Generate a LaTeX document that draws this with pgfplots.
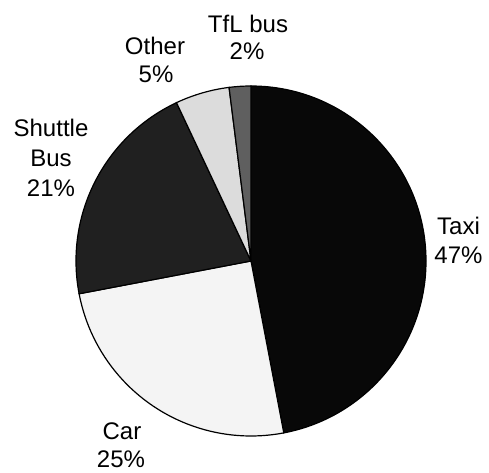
\documentclass[border=0pt]{standalone}
\usepackage{pgfplots}
\pgfplotsset{compat=1.18}
\usepackage{pgfplotstable}
\usepackage{fontspec}
\setmainfont{Liberation Sans}
\definecolor{ctaxi}{HTML}{080808}
\definecolor{ccar}{HTML}{F4F4F4}
\definecolor{cshuttle}{HTML}{202020}
\definecolor{cother}{HTML}{DCDCDC}
\definecolor{ctfl}{HTML}{5F5F5F}
\newcommand\lf{\fontsize{24}{29}\selectfont}
% shares of the pie (percent), clockwise from 12 o'clock
\pgfplotstableread{
label value
Taxi 47
Car 25
Shuttle 21
Other 5
TfL 2
}\piedata
\pgfplotstablegetelem{0}{value}\of\piedata \let\vA\pgfplotsretval
\pgfplotstablegetelem{1}{value}\of\piedata \let\vB\pgfplotsretval
\pgfplotstablegetelem{2}{value}\of\piedata \let\vC\pgfplotsretval
\pgfplotstablegetelem{3}{value}\of\piedata \let\vD\pgfplotsretval
\pgfplotstablegetelem{4}{value}\of\piedata \let\vE\pgfplotsretval
\pgfmathsetmacro\aA{90}
\pgfmathsetmacro\aB{\aA-\vA*3.6}
\pgfmathsetmacro\aC{\aB-\vB*3.6}
\pgfmathsetmacro\aD{\aC-\vC*3.6}
\pgfmathsetmacro\aE{\aD-\vD*3.6}
\pgfmathsetmacro\aF{\aE-\vE*3.6}
\begin{document}
\begin{tikzpicture}
\begin{axis}[
  scale only axis, width=489pt, height=472pt,
  xmin=0, xmax=489, ymin=0, ymax=472,
  hide axis, clip=false,
]
\path (axis cs:0,0) rectangle (axis cs:489,472);
\def\cx{251}\def\cy{211}\def\R{175pt}
\filldraw[fill=ctaxi, draw=black, line width=1.2pt] (axis cs:\cx,\cy) -- ++(\aA:\R) arc[start angle=\aA, end angle=\aB, radius=\R] -- cycle;
\filldraw[fill=ccar, draw=black, line width=1.2pt] (axis cs:\cx,\cy) -- ++(\aB:\R) arc[start angle=\aB, end angle=\aC, radius=\R] -- cycle;
\filldraw[fill=cshuttle, draw=black, line width=1.2pt] (axis cs:\cx,\cy) -- ++(\aC:\R) arc[start angle=\aC, end angle=\aD, radius=\R] -- cycle;
\filldraw[fill=cother, draw=black, line width=1.2pt] (axis cs:\cx,\cy) -- ++(\aD:\R) arc[start angle=\aD, end angle=\aE, radius=\R] -- cycle;
\filldraw[fill=ctfl, draw=black, line width=1.2pt] (axis cs:\cx,\cy) -- ++(\aE:\R) arc[start angle=\aE, end angle=\aF, radius=\R] -- cycle;
% labels
\node[anchor=base, inner sep=0pt, font=\lf] at (axis cs:248,439.7) {TfL bus};
\node[anchor=base, inner sep=0pt, font=\lf] at (axis cs:247,412) {2\%};
\node[anchor=base, inner sep=0pt, font=\lf] at (axis cs:155,417.7) {Other};
\node[anchor=base, inner sep=0pt, font=\lf] at (axis cs:156,389.3) {5\%};
\node[anchor=base, inner sep=0pt, font=\lf] at (axis cs:51,335.3) {Shuttle};
\node[anchor=base, inner sep=0pt, font=\lf] at (axis cs:51,306) {Bus};
\node[anchor=base, inner sep=0pt, font=\lf] at (axis cs:51,276) {21\%};
\node[anchor=base, inner sep=0pt, font=\lf] at (axis cs:458.5,238) {Taxi};
\node[anchor=base, inner sep=0pt, font=\lf] at (axis cs:458.5,209) {47\%};
\node[anchor=base, inner sep=0pt, font=\lf] at (axis cs:122,33) {Car};
\node[anchor=base, inner sep=0pt, font=\lf] at (axis cs:121,5) {25\%};
\end{axis}
\end{tikzpicture}
\end{document}
